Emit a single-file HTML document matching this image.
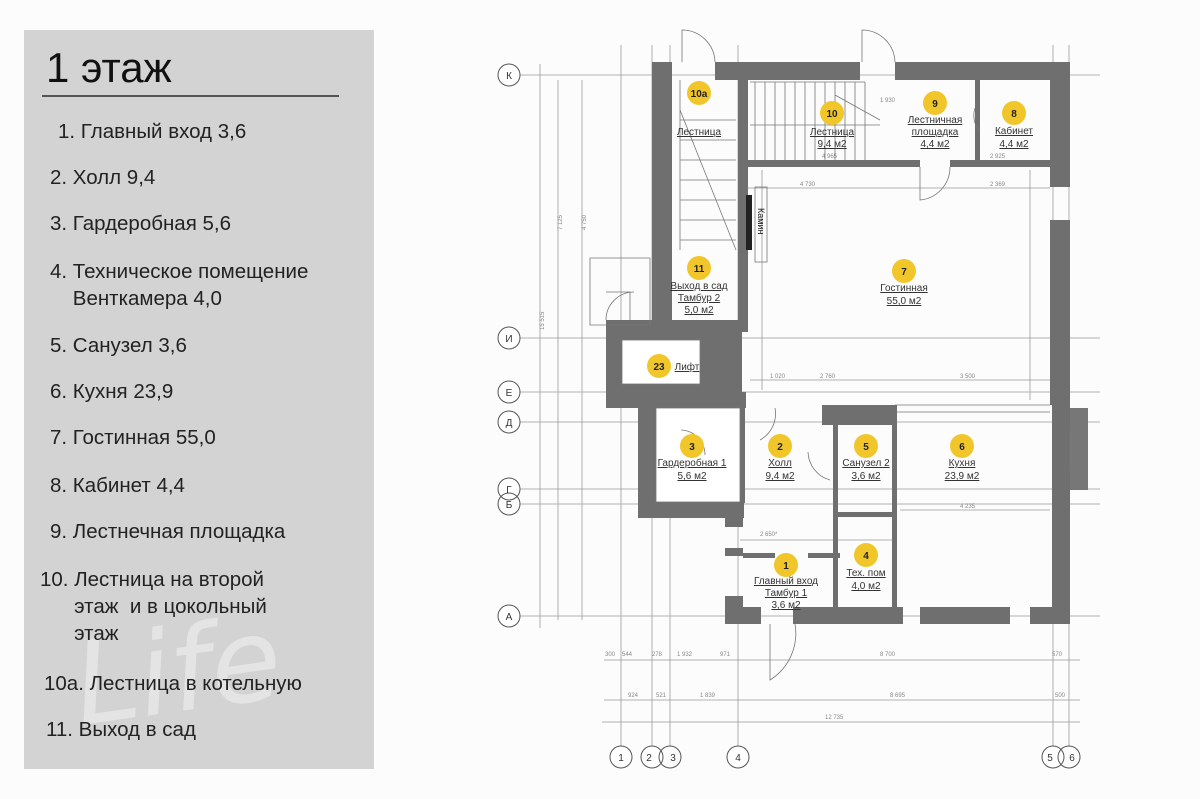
<!DOCTYPE html>
<html><head><meta charset="utf-8"><style>
html,body{margin:0;padding:0;background:#fcfcfc;}
body{width:1200px;height:799px;position:relative;overflow:hidden;font-family:"Liberation Sans","DejaVu Sans",sans-serif;}
#panel{position:absolute;left:24px;top:30px;width:350px;height:739px;background:#d3d3d3;}
#title{position:absolute;left:22px;top:14px;font-size:42px;color:#111;font-weight:300;}
#rule{position:absolute;left:18px;top:65px;width:297px;height:2px;background:#555;}
.it{position:absolute;font-size:20.5px;color:#222;line-height:27px;white-space:nowrap;}
#life{position:absolute;left:50px;top:575px;font-size:115px;color:rgba(255,255,255,0.38);font-family:"DejaVu Sans",sans-serif;font-style:italic;transform:rotate(-8deg);}
svg{position:absolute;left:0;top:0;}
</style></head><body>
<div id="panel">
<div id="life">Life</div>
<div id="title">1 этаж</div>
<div id="rule"></div>
<div class="it" style="left:34px;top:88px">1. Главный вход 3,6</div>
<div class="it" style="left:26px;top:134px">2. Холл 9,4</div>
<div class="it" style="left:26px;top:180px">3. Гардеробная 5,6</div>
<div class="it" style="left:26px;top:228px">4. Техническое помещение<br>&nbsp;&nbsp;&nbsp;&nbsp;Венткамера 4,0</div>
<div class="it" style="left:26px;top:302px">5. Санузел 3,6</div>
<div class="it" style="left:26px;top:348px">6. Кухня 23,9</div>
<div class="it" style="left:26px;top:394px">7. Гостинная 55,0</div>
<div class="it" style="left:26px;top:442px">8. Кабинет 4,4</div>
<div class="it" style="left:26px;top:488px">9. Лестнечная площадка</div>
<div class="it" style="left:16px;top:536px">10. Лестница на второй<br>&nbsp;&nbsp;&nbsp;&nbsp;&nbsp;&nbsp;этаж&nbsp; и в цокольный<br>&nbsp;&nbsp;&nbsp;&nbsp;&nbsp;&nbsp;этаж</div>
<div class="it" style="left:20px;top:640px">10а. Лестница в котельную</div>
<div class="it" style="left:22px;top:686px">11. Выход в сад</div>
</div>
<svg width="1200" height="799" viewBox="0 0 1200 799" font-family="Liberation Sans, DejaVu Sans, sans-serif">
<g stroke="#9a9a9a" stroke-width="0.8" fill="none">
<line x1="520" y1="75" x2="1100" y2="75"/><line x1="520" y1="338" x2="1100" y2="338"/>
<line x1="520" y1="392" x2="1100" y2="392"/><line x1="520" y1="422" x2="1100" y2="422"/>
<line x1="520" y1="489" x2="1100" y2="489"/><line x1="520" y1="504" x2="1100" y2="504"/>
<line x1="520" y1="616" x2="1100" y2="616"/>
<line x1="621" y1="45" x2="621" y2="746"/><line x1="652" y1="45" x2="652" y2="746"/>
<line x1="670" y1="45" x2="670" y2="746"/><line x1="738" y1="45" x2="738" y2="746"/>
<line x1="1053" y1="45" x2="1053" y2="746"/><line x1="1069" y1="45" x2="1069" y2="746"/>
<line x1="540" y1="64" x2="540" y2="628"/><line x1="558" y1="80" x2="558" y2="620"/><line x1="582" y1="80" x2="582" y2="620"/>
<line x1="604" y1="660" x2="1080" y2="660"/><line x1="604" y1="700" x2="1080" y2="700"/><line x1="602" y1="722" x2="1080" y2="722"/>
<line x1="740" y1="188" x2="1050" y2="188"/><line x1="750" y1="380" x2="1050" y2="380"/>
<line x1="900" y1="510" x2="1050" y2="510"/><line x1="740" y1="540" x2="895" y2="540"/>
<line x1="762" y1="170" x2="762" y2="390"/><line x1="1030" y1="170" x2="1030" y2="400"/>
</g>
<g fill="#888" font-size="6">
<text x="544" y="330" transform="rotate(-90 544 330)">15 515</text>
<text x="562" y="230" transform="rotate(-90 562 230)">7 125</text>
<text x="586" y="230" transform="rotate(-90 586 230)">4 750</text>
<text x="605" y="656">300</text><text x="622" y="656">544</text><text x="652" y="656">278</text><text x="677" y="656">1 932</text><text x="720" y="656">971</text><text x="880" y="656">8 700</text><text x="1052" y="656">570</text>
<text x="628" y="697">924</text><text x="656" y="697">521</text><text x="700" y="697">1 839</text><text x="890" y="697">8 695</text><text x="1055" y="697">500</text>
<text x="825" y="719">12 735</text>
<text x="800" y="186">4 730</text><text x="990" y="186">2 369</text>
<text x="820" y="378">2 760</text><text x="960" y="378">3 500</text><text x="770" y="378">1 020</text>
<text x="960" y="508">4 235</text><text x="760" y="536">2 650*</text>
<text x="880" y="102">1 930</text><text x="990" y="158">2 925</text><text x="822" y="158">4 965</text>
</g>
<g stroke="#555" stroke-width="1" fill="#fff" font-size="10" text-anchor="middle">
<circle cx="509" cy="75" r="11"/><circle cx="509" cy="338" r="11"/><circle cx="509" cy="392" r="11"/><circle cx="509" cy="422" r="11"/><circle cx="509" cy="489" r="11"/><circle cx="509" cy="504" r="11" fill="none"/><circle cx="509" cy="616" r="11"/>
<circle cx="621" cy="757" r="11"/><circle cx="652" cy="757" r="11"/><circle cx="670" cy="757" r="11" fill="none"/><circle cx="738" cy="757" r="11"/><circle cx="1053" cy="757" r="11"/><circle cx="1069" cy="757" r="11" fill="none"/>
</g>
<g fill="#333" font-size="10" text-anchor="middle">
<text x="509" y="79">К</text><text x="509" y="342">И</text><text x="509" y="396">Е</text><text x="509" y="426">Д</text><text x="509" y="493">Г</text><text x="509" y="508">Б</text><text x="509" y="620">А</text>
<text x="621" y="761">1</text><text x="649" y="761">2</text><text x="673" y="761">3</text><text x="738" y="761">4</text><text x="1050" y="761">5</text><text x="1072" y="761">6</text>
</g>
<g fill="#6f6f6f">
<rect x="652" y="62" width="20" height="258"/>
<rect x="715" y="62" width="145" height="18"/>
<rect x="895" y="62" width="175" height="18"/>
<rect x="738" y="62" width="10" height="270"/>
<rect x="745" y="160" width="175" height="7"/>
<rect x="950" y="160" width="100" height="7"/>
<rect x="975" y="80" width="5" height="85"/>
<rect x="1050" y="62" width="20" height="125"/>
<rect x="1050" y="220" width="20" height="185"/>
<rect x="1052" y="405" width="18" height="205"/>
<rect x="1070" y="408" width="18" height="82" fill="#777"/>
<rect x="606" y="320" width="136" height="76"/>
<rect x="638" y="392" width="18" height="126"/>
<rect x="606" y="392" width="140" height="16"/>
<rect x="638" y="502" width="106" height="16"/>
<rect x="740" y="408" width="5" height="95"/>
<rect x="725" y="518" width="18" height="9"/><rect x="725" y="548" width="18" height="8"/><rect x="725" y="596" width="18" height="28"/>
<rect x="743" y="553" width="32" height="5"/><rect x="808" y="553" width="32" height="5"/>
<rect x="822" y="405" width="75" height="20"/>
<rect x="833" y="425" width="5" height="185"/>
<rect x="892" y="405" width="5" height="210"/>
<rect x="838" y="512" width="55" height="5"/>
<rect x="743" y="607" width="18" height="17"/><rect x="793" y="607" width="110" height="17"/>
<rect x="920" y="607" width="90" height="17"/><rect x="1030" y="607" width="40" height="17"/>
<rect x="746" y="195" width="6" height="55" fill="#222"/>
</g>
<g fill="none" stroke="#777" stroke-width="0.8">
<rect x="622" y="340" width="78" height="44" fill="#fff"/>
<rect x="656" y="408" width="84" height="94" fill="#fff"/>
<rect x="1070" y="430" width="10" height="40"/>
<rect x="755" y="187" width="12" height="75"/>
<path d="M680 80 V250 M680 120 H736 M680 140 H736 M680 160 H736 M680 180 H736 M680 200 H736 M680 220 H736 M680 240 H736 M680 110 L736 250"/>
<path d="M750 82 H865 M755 82 V160 M765 82 V160 M775 82 V160 M785 82 V160 M795 82 V160 M805 82 V160 M815 82 V160 M825 82 V160 M835 82 V160 M845 82 V160 M855 82 V160 M865 82 V160 M835 95 L880 120 M750 125 H880"/>
<path d="M682 62 V30 A33 33 0 0 1 715 62"/>
<path d="M862 62 V30 A33 33 0 0 1 895 62"/>
<path d="M920 167 V200 A33 33 0 0 0 950 167"/>
<path d="M980 132 A25 25 0 0 1 975 108"/>
<path d="M606 320 A28 28 0 0 1 634 292 M606 292 H630 V320"/>
<path d="M590 258 H650 V325 H590 Z"/>
<path d="M770 624 V680 A55 55 0 0 0 795 624"/>
<path d="M760 440 A30 30 0 0 0 775 408"/>
<path d="M808 452 A30 30 0 0 0 830 480"/>
<path d="M681 430 A25 25 0 0 1 705 455"/>
<path d="M895 405 H1050 M897 412 H1050"/>
</g>
<g fill="#f1c62a">
<circle cx="699" cy="93" r="12"/><circle cx="832" cy="113" r="12"/><circle cx="935" cy="103" r="12"/><circle cx="1014" cy="113" r="12"/>
<circle cx="699" cy="268" r="12"/><circle cx="904" cy="271" r="12"/><circle cx="659" cy="366" r="12"/>
<circle cx="692" cy="446" r="12"/><circle cx="780" cy="446" r="12"/><circle cx="866" cy="446" r="12"/><circle cx="962" cy="446" r="12"/>
<circle cx="786" cy="565" r="12"/><circle cx="866" cy="555" r="12"/>
</g>
<g fill="#222" font-size="10" font-weight="bold" text-anchor="middle">
<text x="699" y="97">10а</text><text x="832" y="117">10</text><text x="935" y="107">9</text><text x="1014" y="117">8</text>
<text x="699" y="272">11</text><text x="904" y="275">7</text><text x="659" y="370">23</text>
<text x="692" y="450">3</text><text x="780" y="450">2</text><text x="866" y="450">5</text><text x="962" y="450">6</text>
<text x="786" y="569">1</text><text x="866" y="559">4</text>
</g>
<g fill="#333" font-size="10" text-anchor="middle" text-decoration="underline">
<text x="699" y="135">Лестница</text>
<text x="832" y="135">Лестница</text><text x="832" y="147" text-decoration="none">9,4 м2</text>
<text x="935" y="123">Лестничная</text><text x="935" y="135">площадка</text><text x="935" y="147" text-decoration="none">4,4 м2</text>
<text x="1014" y="134">Кабинет</text><text x="1014" y="147" text-decoration="none">4,4 м2</text>
<text x="699" y="289">Выход в сад</text><text x="699" y="301">Тамбур 2</text><text x="699" y="313" text-decoration="none">5,0 м2</text>
<text x="904" y="291">Гостинная</text><text x="904" y="304" text-decoration="none">55,0 м2</text>
<text x="687" y="370">Лифт</text>
<text x="692" y="466">Гардеробная 1</text><text x="692" y="479" text-decoration="none">5,6 м2</text>
<text x="780" y="466">Холл</text><text x="780" y="479" text-decoration="none">9,4 м2</text>
<text x="866" y="466">Санузел 2</text><text x="866" y="479" text-decoration="none">3,6 м2</text>
<text x="962" y="466">Кухня</text><text x="962" y="479" text-decoration="none">23,9 м2</text>
<text x="786" y="584">Главный вход</text><text x="786" y="596">Тамбур 1</text><text x="786" y="608" text-decoration="none">3,6 м2</text>
<text x="866" y="576">Тех. пом</text><text x="866" y="589" text-decoration="none">4,0 м2</text>
</g>
<text x="758" y="208" font-size="9" fill="#222" transform="rotate(90 758 208)">Камин</text>
</svg>
</body></html>
